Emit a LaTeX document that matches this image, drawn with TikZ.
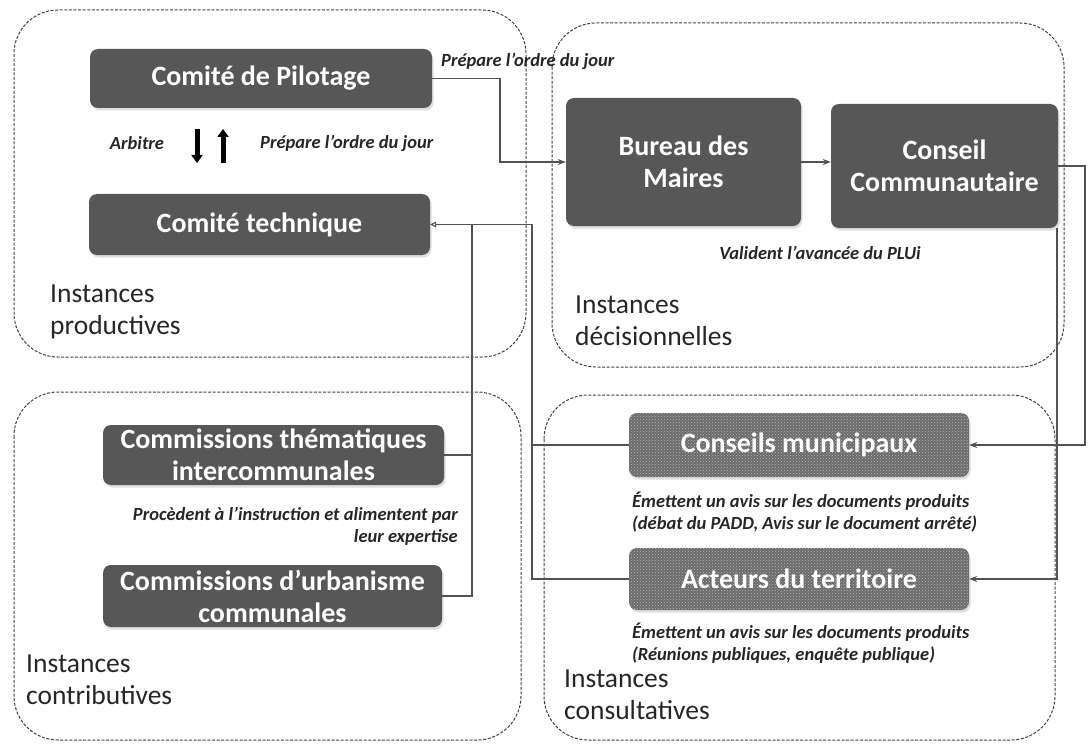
\documentclass[tikz,border=0pt]{standalone}
\usepackage{fontspec}
\setmainfont{Carlito}
\usetikzlibrary{arrows.meta,shadows,patterns,calc}
\begin{document}
\begin{tikzpicture}[x=1pt,y=-1pt,
  container/.style={draw=black!75, line width=1pt, dash pattern=on 3pt off 1.6pt, rounded corners=44pt},
  darkbox/.style={fill=black!66, rounded corners=8pt, text=white, font=\fontsize{28}{32}\selectfont\bfseries, align=center, inner sep=0pt, drop shadow={opacity=0.25, shadow xshift=1.5pt, shadow yshift=-2.5pt}},
  texbox/.style={darkbox, fill=black!58, postaction={pattern=crosshatch dots, pattern color=black!28}},
  conn/.style={draw=black!68, line width=1.1pt},
  tip/.style={-{Stealth[length=8pt,width=6pt]}},
  opentip/.style={-{Triangle[open,length=6pt,width=6pt]}},
  lab/.style={font=\fontsize{18.5}{22}\selectfont\bfseries\itshape, inner sep=0pt, text=black!85},
  inst/.style={font=\fontsize{27.5}{32}\selectfont, align=left, inner sep=0pt, text=black!85, anchor=base west},
  bigarrow/.style={line width=5pt, -{Triangle[width=11pt,length=8pt]}}
]
\useasboundingbox (0,0) rectangle (1089,754);

% containers
\draw[container] (14,10) rectangle (526,357);
\draw[container] (552,23) rectangle (1064,367);
\draw[container] (14,392) rectangle (521,740);
\draw[container] (544,395) rectangle (1055,740);

% boxes
\node[darkbox, minimum width=342pt, minimum height=59pt] (cp) at (261,78.5) {Comité de Pilotage};
\node[darkbox, minimum width=341pt, minimum height=61pt] (ct) at (259.5,224.5) {Comité technique};
\node[darkbox, minimum width=235pt, minimum height=128pt] (bm) at (683.5,162) {Bureau des\\Maires};
\node[darkbox, minimum width=227pt, minimum height=124pt] (cc) at (944.5,166) {Conseil\\Communautaire};
\node[darkbox, minimum width=341pt, minimum height=60pt] (cth) at (273.5,455) {Commissions thématiques\\intercommunales};
\node[darkbox, minimum width=339pt, minimum height=62pt] (cu) at (272.5,596) {Commissions d’urbanisme\\communales};
\node[texbox, minimum width=340pt, minimum height=64pt] (cm) at (799,445) {Conseils municipaux};
\node[texbox, minimum width=340pt, minimum height=62pt] (act) at (799,579) {Acteurs du territoire};

% thick arrows between comités
\coordinate (da1) at (197,129);
\coordinate (da2) at (197,163);
\coordinate (ua1) at (223,163);
\coordinate (ua2) at (223,129);
\draw[bigarrow] (da1) -- (da2);
\draw[bigarrow] (ua1) -- (ua2);

% labels
\node[lab, anchor=base west] at (441,67) {Prépare l’ordre du jour};
\node[lab] at (137,143) {Arbitre};
\node[lab, anchor=west] at (260,143) {Prépare l’ordre du jour};
\node[lab] at (820,253) {Valident l’avancée du PLUi};
\node[lab, align=right, anchor=east] at (458,526) {Procèdent à l’instruction et alimentent par\\leur expertise};
\node[lab, align=left, anchor=west] at (632,512) {Émettent un avis sur les documents produits\\(débat du PADD, Avis sur le document arrêté)};
\node[lab, align=left, anchor=west] at (632,643) {Émettent un avis sur les documents produits\\(Réunions publiques, enquête publique)};

\node[inst] at (50,334) {Instances\\productives};
\node[inst] at (575,345) {Instances\\décisionnelles};
\node[inst] at (26,704) {Instances\\contributives};
\node[inst] at (564,719) {Instances\\consultatives};

% connectors
\coordinate (pj) at (500,162);
\draw[conn, tip] (cp.east) -| (pj) -- (bm.west);
\draw[conn, tip] (bm.east) -- (bm.east -| cc.west);

\coordinate (rj) at (1085,166);
\draw[conn, tip] (cc.east) -- (rj) |- (cm.east);
\coordinate (rb) at (1057,228);
\draw[conn, tip] (rb) |- (act.east);

\coordinate (j1) at (472,224.5);
\coordinate (j2) at (532,224.5);
\draw[conn] (cu.east) -| (j1);
\draw[conn] (cth.east) -- (cth.east -| j1);
\draw[conn, opentip] (act.west) -| (j2) -- (ct.east);
\draw[conn] (cm.west) -- (cm.west -| j2);
\end{tikzpicture}
\end{document}
